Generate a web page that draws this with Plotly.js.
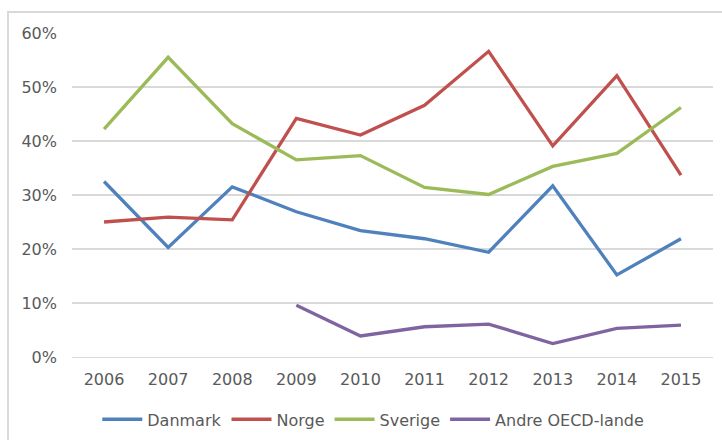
<!DOCTYPE html>
<html>
<head>
<meta charset="utf-8">
<script src="https://cdn.plot.ly/plotly-3.0.1.min.js"></script>
<style>
  html, body { margin: 0; padding: 0; background: #ffffff; }
  #frame { position: absolute; left: 7px; top: 11px; width: 730px; height: 440px; border: 2px solid #d9d9d9; box-sizing: border-box; }
  #chart { position: absolute; left: 0; top: 0; width: 722px; height: 440px; }
</style>
</head>
<body>
<div id="frame"></div>
<div id="chart"></div>
<script>
const years = ["2006","2007","2008","2009","2010","2011","2012","2013","2014","2015"];
const danmark = [0.325, 0.203, 0.315, 0.269, 0.234, 0.219, 0.194, 0.317, 0.152, 0.219];
const norge   = [0.250, 0.259, 0.254, 0.442, 0.411, 0.466, 0.566, 0.391, 0.521, 0.337];
const sverige = [0.422, 0.555, 0.432, 0.365, 0.373, 0.314, 0.301, 0.353, 0.377, 0.462];
const andre   = [null, null, null, 0.096, 0.039, 0.056, 0.061, 0.025, 0.053, 0.059];
const yTicks = [0, 0.1, 0.2, 0.3, 0.4, 0.5, 0.6];
const yTickText = ["0%", "10%", "20%", "30%", "40%", "50%", "60%"];

const font = "'Century Gothic', 'DejaVu Sans', sans-serif";
function tr(name, y, color) {
  return { type: "scatter", mode: "lines", name: name, x: years, y: y,
           line: { color: color, width: 3.3 }, connectgaps: false, hoverinfo: "skip" };
}
const data = [
  tr("Danmark", danmark, "#4f81bd"),
  tr("Norge", norge, "#c0504d"),
  tr("Sverige", sverige, "#9bbb59"),
  tr("Andre OECD-lande", andre, "#8064a2")
];
const layout = {
  width: 722, height: 440,
  margin: { l: 72, r: 9, t: 33, b: 83, autoexpand: false },
  paper_bgcolor: "rgba(0,0,0,0)", plot_bgcolor: "rgba(0,0,0,0)",
  font: { family: font, color: "#595959", size: 16 },
  showlegend: true,
  legend: { orientation: "h", x: 0.47, xanchor: "center", y: -0.14, yanchor: "top",
            font: { size: 16, color: "#595959" }, itemwidth: 40, tracegroupgap: 0 },
  xaxis: { type: "category", range: [-0.5, 9.5], showgrid: false, zeroline: false,
           showline: true, linecolor: "#d9d9d9", linewidth: 1.3, ticks: "",
           tickfont: { size: 16, color: "#595959" }, ticklabelstandoff: 7, fixedrange: true },
  yaxis: { range: [0, 0.6], tickvals: yTicks, ticktext: yTickText, showgrid: true,
           gridcolor: "#d9d9d9", gridwidth: 1.3, zeroline: false, showline: false, ticks: "",
           tickfont: { size: 16, color: "#595959" }, ticklabelstandoff: 14, fixedrange: true }
};
Plotly.newPlot("chart", data, layout, { displayModeBar: false, staticPlot: true });
</script>
</body>
</html>
